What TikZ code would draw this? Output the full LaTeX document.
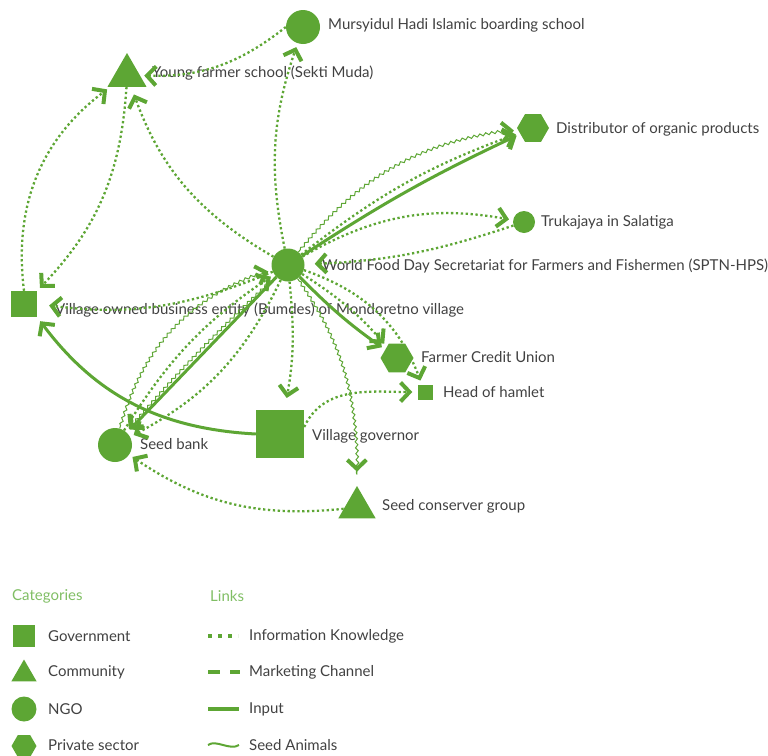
\documentclass[tikz,border=0pt]{standalone}
\usepackage{fontspec}
\setmainfont{Lato}
\usetikzlibrary{arrows.meta,shapes.geometric,decorations.pathmorphing}
\definecolor{leaf}{RGB}{93,166,52}
\definecolor{leaflight}{RGB}{128,190,100}
\definecolor{ink}{RGB}{65,65,65}

\begin{document}
\begin{tikzpicture}[x=1pt,y=1pt,
    font=\fontsize{15}{17}\selectfont,
    govshape/.style={rectangle,fill=leaf,inner sep=0,minimum size=#1},
    comshape/.style={regular polygon,regular polygon sides=3,fill=leaf,inner sep=0,minimum size=#1},
    ngoshape/.style={circle,fill=leaf,inner sep=0,minimum size=#1},
    pvtshape/.style={regular polygon,regular polygon sides=6,fill=leaf,inner sep=0,minimum size=#1},
    lbl/.style={anchor=west,inner sep=0,text=ink},
    linktip/.style={-{Straight Barb[length=9pt,width=19pt,line width=4pt 0 1,sharp]},shorten >=4pt},
    info/.style={linktip,draw=leaf,line width=2.3pt,dash pattern=on 2.3pt off 2.6pt},
    input/.style={linktip,draw=leaf,line width=3pt},
    seeds/.style={linktip,draw=leaf,line width=1pt,decorate,
        decoration={snake,segment length=6pt,amplitude=1.3pt,pre length=3pt,post length=11pt}}]
    \useasboundingbox (0,0) rectangle (768,-755);

    \node[ngoshape=34] (mursyidul) at (303,-27) {};
    \node[comshape=45] (youngfarm) at (127,-75.5) {};
    \node[pvtshape=32] (distrib) at (533,-128) {};
    \node[ngoshape=22] (trukajaya) at (524,-222) {};
    \node[ngoshape=33] (sptn) at (288,-265) {};
    \node[govshape=26] (bumdes) at (24,-304) {};
    \node[pvtshape=33] (creditunion) at (397,-358) {};
    \node[govshape=15] (hamlet) at (425,-392) {};
    \node[govshape=48] (governor) at (280,-434) {};
    \node[ngoshape=34] (seedbank) at (115,-445) {};
    \node[comshape=43] (conserver) at (357,-507.5) {};

    \node[lbl] (mursyidulL) at (328,-25) {Mursyidul Hadi Islamic boarding school};
    \node[lbl] (youngfarmL) at (152,-73) {Young farmer school (Sekti Muda)};
    \node[lbl] (distribL) at (556,-129) {Distributor of organic products};
    \node[lbl] (trukajayaL) at (541,-222) {Trukajaya in Salatiga};
    \node[lbl] (sptnL) at (322,-266) {World Food Day Secretariat for Farmers and Fishermen (SPTN-HPS)};
    \node[lbl] (bumdesL) at (55,-310) {Village owned business entity (Bumdes) of Mondoretno village};
    \node[lbl] (creditunionL) at (421,-357) {Farmer Credit Union};
    \node[lbl] (hamletL) at (443,-392) {Head of hamlet};
    \node[lbl] (governorL) at (312,-436) {Village governor};
    \node[lbl] (seedbankL) at (140,-444) {Seed bank};
    \node[lbl] (conserverL) at (382,-506) {Seed conserver group};

    \draw[info] (mursyidul.west) to[bend left=20] (youngfarm.east);
    \draw[info] (sptn) to[bend left=15] (mursyidul);
    \draw[info,shorten >=8pt] (sptn) to[bend left=20] (youngfarm);
    \draw[info] (bumdes.north) to[bend left=30] (youngfarm);
    \draw[info] (youngfarm) to[bend left=20] (bumdes.north east);
    \draw[info,shorten >=12pt] (sptn) to[bend left=15] (bumdes.east);
    \draw[input,shorten >=5pt] (governor.west) to[bend left=25] (bumdes.south east);

    \draw[seeds] (seedbank) to[bend left=28] (sptn); \draw[info] (seedbank) to[bend left=12] (sptn);
    \draw[input] (sptn) to (seedbank); \draw[seeds] (sptn) to[bend right=3] (seedbank);
    \draw[info] (sptn) to[bend left=18] (seedbank);

    \draw[seeds] (sptn) to[bend left=22] (distrib); \draw[info] (sptn) to[bend left=9] (distrib);
    \draw[input] (sptn) to[bend left=4] (distrib);
    \draw[info] (sptn) to[bend left=20] (trukajaya); \draw[info,shorten >=10pt] (trukajaya) to[bend left=8] (sptn);
    \draw[input] (sptn) to[bend right=5] (creditunion); \draw[info] (sptn) to[bend left=8] (creditunion);
    \draw[info] (sptn) to[bend left=25] (hamlet);
    \draw[info,shorten >=12pt] (sptn) to[bend left=8] (governor);
    \draw[seeds,shorten >=14pt] (sptn) to[out=-55,in=90] (conserver);
    \draw[info,shorten >=5pt] ([yshift=7pt]governor.east) to[out=65,in=180] (hamlet.west);
    \draw[info] (conserver) to[bend left=20] (seedbank);

    % legend
    \node[lbl,text=leaflight] (catH) at (12,-596) {Categories};
    \node[lbl,text=leaflight] (linkH) at (210,-596) {Links};
    \node[govshape=22] (legGov) at (24,-636) {}; \node[lbl] (legGovL) at (48,-636) {Government};
    \node[comshape=29] (legCom) at (24,-674) {}; \node[lbl] (legComL) at (48,-672) {Community};
    \node[ngoshape=25] (legNgo) at (24,-709) {}; \node[lbl] (legNgoL) at (48,-709) {NGO};
    \node[pvtshape=25] (legPvt) at (24,-746) {}; \node[lbl] (legPvtL) at (48,-745) {Private sector};
    \draw[leaf,line width=4pt,dash pattern=on 4pt off 6pt] (208,-636) -- (238,-636);
    \draw[leaf,line width=4pt,dash pattern=on 12pt off 10pt] (208,-672) -- (240,-672);
    \draw[leaf,line width=4pt] (208,-709) -- (239,-709);
    \draw[leaf,line width=2pt] (208,-745) .. controls (216,-739) and (230,-751) .. (239,-745);
    \node[lbl] (legInfoL) at (249,-636) {Information Knowledge};
    \node[lbl] (legMarkL) at (249,-672) {Marketing Channel};
    \node[lbl] (legInputL) at (249,-709) {Input};
    \node[lbl] (legSeedL) at (249,-745) {Seed Animals};
\end{tikzpicture}
\end{document}
